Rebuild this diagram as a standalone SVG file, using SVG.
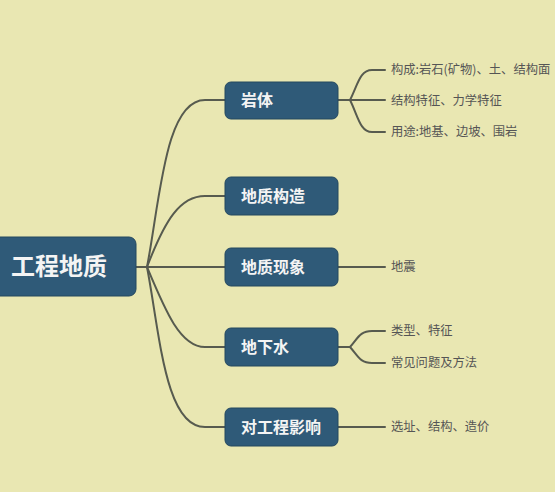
<svg xmlns="http://www.w3.org/2000/svg" width="555" height="492" viewBox="0 0 555 492">
<style>
.bg{fill:#e9e7b2}
.box{fill:#2f5a78;stroke:#24485f;stroke-width:1}
.t-root{font-family:"Noto Sans CJK SC","Liberation Sans",sans-serif;font-size:24px;font-weight:bold;fill:#f4f4f4}
.t-main{font-family:"Noto Sans CJK SC","Liberation Sans",sans-serif;font-size:16px;font-weight:bold;fill:#f4f4f4}
.t-leaf{font-family:"Noto Sans CJK SC","Liberation Sans",sans-serif;font-size:12.3px;fill:#555555}
.ln{fill:none;stroke:#575b4f;stroke-width:2;stroke-linecap:round}
</style>
<rect class="bg" x="0" y="0" width="555" height="492"/>
<g id="connectors">
<path class="ln" d="M136,267 H147"/>
<path class="ln" d="M147,267 C160,200 165,100 205,100 H225"/>
<path class="ln" d="M147,267 C165,220 180,196 205,196 H225"/>
<path class="ln" d="M147,267 H225"/>
<path class="ln" d="M147,267 C165,310 180,347 205,347 H225"/>
<path class="ln" d="M147,267 C160,335 165,427 205,427 H225"/>
<path class="ln" d="M338,100 H350 C358,84 360,70 372,70 H385"/>
<path class="ln" d="M350,100 H385"/>
<path class="ln" d="M350,100 C358,116 360,132 372,132 H385"/>
<path class="ln" d="M338,267 H385"/>
<path class="ln" d="M338,347 H350 C358,338 360,331 372,331 H385"/>
<path class="ln" d="M350,347 C358,356 360,363 372,363 H385"/>
<path class="ln" d="M338,427 H385"/>
</g>
<g id="root">
<rect class="box" x="-8" y="237" width="144" height="59" rx="7"/>
<text class="t-root" x="11" y="275">工程地质</text>
</g>
<g id="n-yanti">
<rect class="box" x="225" y="82" width="113" height="37" rx="6"/>
<text class="t-main" x="241" y="106">岩体</text>
</g>
<g id="n-gouzao">
<rect class="box" x="225" y="177" width="113" height="38" rx="6"/>
<text class="t-main" x="241" y="202">地质构造</text>
</g>
<g id="n-xianxiang">
<rect class="box" x="225" y="248" width="113" height="38" rx="6"/>
<text class="t-main" x="241" y="273">地质现象</text>
</g>
<g id="n-dixiashui">
<rect class="box" x="225" y="328" width="113" height="38" rx="6"/>
<text class="t-main" x="241" y="353">地下水</text>
</g>
<g id="n-yingxiang">
<rect class="box" x="225" y="408" width="113" height="38" rx="6"/>
<text class="t-main" x="241" y="433">对工程影响</text>
</g>
<g id="leaves">
<text class="t-leaf" x="391" y="74">构成:岩石(矿物)、土、结构面</text>
<text class="t-leaf" x="391" y="105">结构特征、力学特征</text>
<text class="t-leaf" x="391" y="136">用途:地基、边坡、围岩</text>
<text class="t-leaf" x="391" y="271">地震</text>
<text class="t-leaf" x="391" y="335">类型、特征</text>
<text class="t-leaf" x="391" y="367">常见问题及方法</text>
<text class="t-leaf" x="391" y="431">选址、结构、造价</text>
</g>
</svg>
